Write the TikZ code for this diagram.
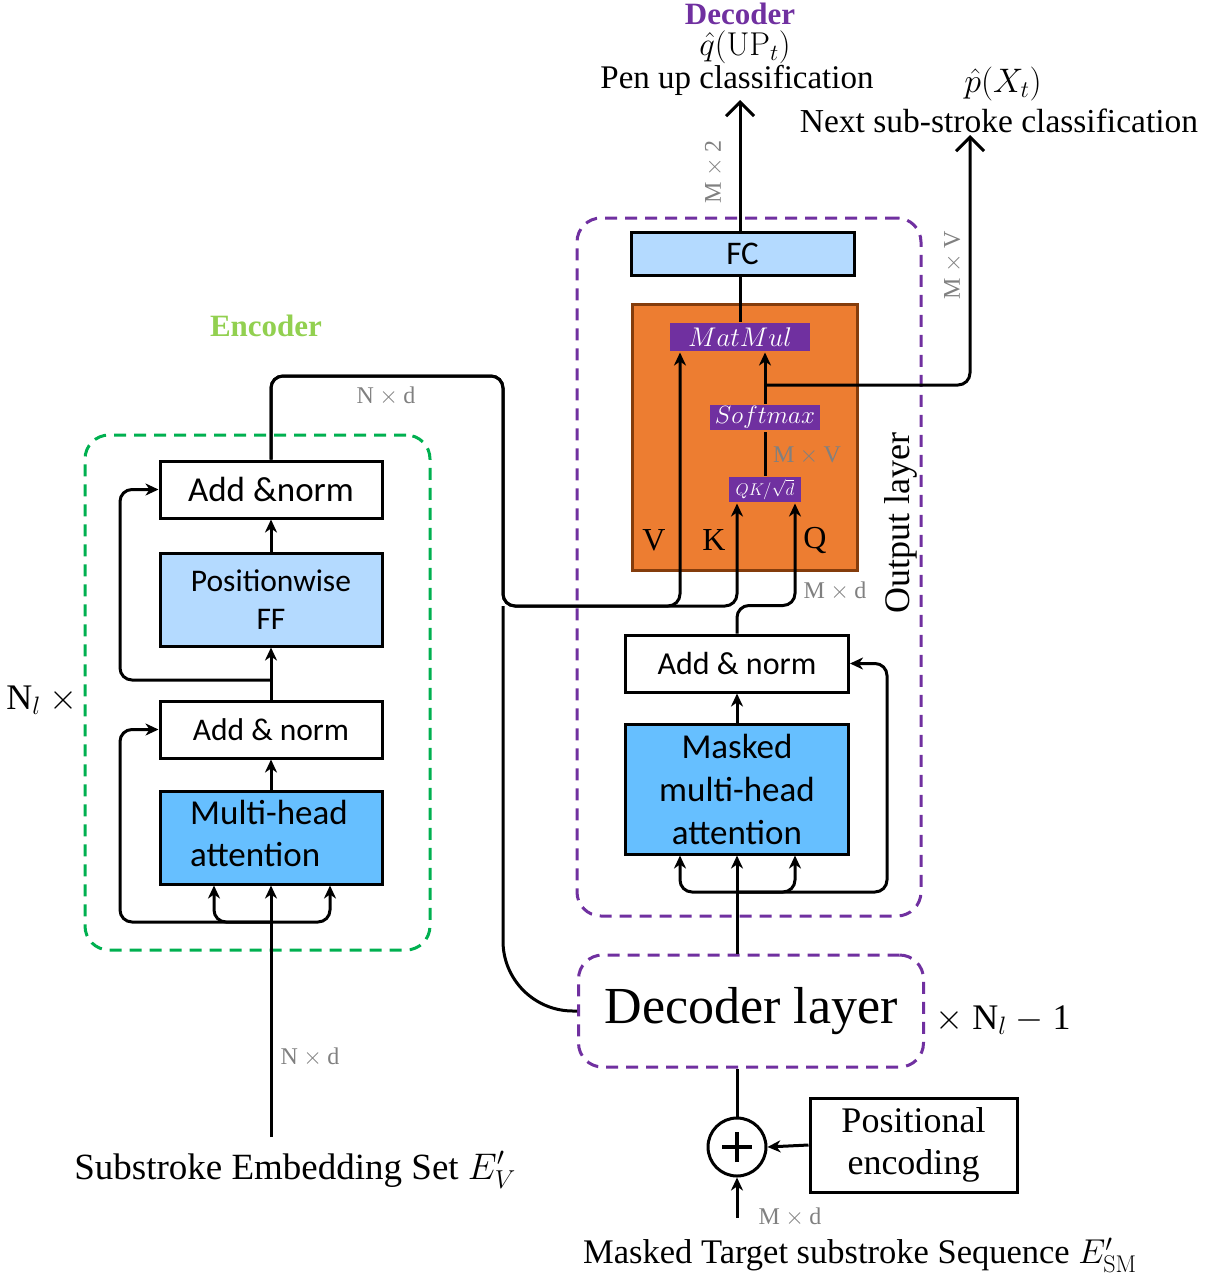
\RequirePackage{fix-cm}
\documentclass[tikz,border=0pt]{standalone}
\usepackage[no-math]{fontspec}
\setmainfont{Liberation Serif}
\newfontfamily\carl{Carlito}
\usetikzlibrary{arrows.meta,calc}
\newcommand\fsz[2]{\fontsize{#1}{#2}\selectfont}
\definecolor{encgreen}{HTML}{00B050}
\definecolor{enctitle}{HTML}{92D050}
\definecolor{decpurple}{HTML}{7030A0}
\definecolor{lightblue}{HTML}{B4DAFF}
\definecolor{midblue}{HTML}{66BFFF}
\definecolor{orangefill}{HTML}{ED7D31}
\definecolor{orangeline}{HTML}{843C0C}
\definecolor{dimgray}{HTML}{808080}
\begin{document}
\begin{tikzpicture}[x=1pt,y=-1pt,line width=3pt,
  box/.style={draw,line width=3pt,inner sep=0pt,align=center},
  conn/.style={line width=3pt,rounded corners=12pt},
  arr/.style={conn,-{Stealth[length=13pt,width=12pt,inset=4pt]}},
  bigarr/.style={conn,-{Straight Barb[length=14pt,width=28pt]}},
  txt/.style={inner sep=0pt},
  graylbl/.style={text=dimgray,font=\fsz{24}{28},inner sep=0pt},
  greendash/.style={draw=encgreen,line width=3pt,dash pattern=on 12pt off 8pt,rounded corners=24pt,inner sep=0pt},
  purpledash/.style={draw=decpurple,line width=3pt,dash pattern=on 12pt off 8pt,rounded corners=24pt,inner sep=0pt},
  tag/.style={fill=decpurple,text=white,inner sep=0pt}
]
\useasboundingbox (0,0) rectangle (1210,1278);

% ---------- Encoder ----------
\node[greendash,minimum width=345pt,minimum height=515pt] (encBox) at (257.5,692.5) {};
\node[txt,font=\bfseries\fsz{31}{36},text=enctitle] (encTitle) at (266,326) {Encoder};
\node[box,fill=white,minimum width=222pt,minimum height=57pt,font=\carl\fsz{35}{42}] (encAN2) at (271,489.5) {Add \&norm};
\node[box,fill=lightblue,minimum width=222pt,minimum height=93pt,font=\carl\fsz{31.5}{38}] (PFF) at (271,599.5) {Positionwise\\FF};
\node[box,fill=white,minimum width=222pt,minimum height=57pt,font=\carl\fsz{31.5}{38}] (encAN1) at (271,729.5) {Add \& norm};
\node[box,fill=midblue,minimum width=222pt,minimum height=93pt,font=\carl\fsz{35}{42}] (MHA) at (271,837.5) {\begin{tabular}{@{}l@{}}\hspace*{-4pt}Multi-head\\\hspace*{-4pt}attention\end{tabular}};
\node[txt,font=\fsz{36}{40}] (Nlx) at (42,700) {N$_l$ $\times$};

\coordinate (encIn) at (271,1137);
\coordinate (encSplit) at (271,922);
\coordinate (encSplit2) at (271,680);
\coordinate (encLoopX) at (120,0);
\draw[arr] (encIn) -- (MHA.south);
\draw[arr] (encSplit) -| ([xshift=-57pt]MHA.south);
\draw[arr] (encSplit) -| ([xshift=59pt]MHA.south);
\draw[arr] (encSplit) -| (encLoopX |- encAN1.west) -- (encAN1.west);
\draw[arr] (MHA.north) -- (encAN1.south);
\draw[arr] (encAN1.north) -- (PFF.south);
\draw[arr] (encSplit2) -| (encLoopX |- encAN2.west) -- (encAN2.west);
\draw[arr] (PFF.north) -- (encAN2.south);

\node[graylbl] (lNd2) at (310,1057) {N${}\times{}$d};
\node[txt,font=\fsz{37}{40}] (encInLbl) at (295,1170) {Substroke Embedding Set $E'_V$};

% ---------- Decoder output layer ----------
\node[purpledash,minimum width=344pt,minimum height=698pt] (outBox) at (749,567) {};
\node[txt,font=\fsz{36}{40},rotate=90] (outLbl) at (901,523) {Output layer};
\node[box,fill=lightblue,minimum width=223pt,minimum height=43pt,font=\carl\fsz{33}{38}] (FC) at (742.5,253.5) {FC};
\node[draw=orangeline,fill=orangefill,line width=3pt,minimum width=225pt,minimum height=266pt,inner sep=0pt] (orange) at (744.5,437) {};
\node[tag,minimum width=140pt,minimum height=28pt,font=\fsz{27}{30}] (MatMul) at (740,337) {$MatMul$};
\node[tag,minimum width=110pt,minimum height=25pt,font=\fsz{25}{28}] (Softmax) at (765,417.5) {$Softmax$};
\node[tag,minimum width=72pt,minimum height=25pt,font=\fsz{17}{20}] (QK) at (765,489.5) {$QK/\sqrt{d}$};
\node[txt,font=\fsz{32}{36}] (lV) at (654,540) {V};
\node[txt,font=\fsz{32}{36}] (lK) at (714,540) {K};
\node[txt,font=\fsz{32}{36}] (lQ) at (815,540) {Q};
\node[graylbl] (lMV1) at (807,456) {M${}\times{}$V};

\node[box,fill=white,minimum width=223pt,minimum height=57pt,font=\carl\fsz{32}{38}] (decAN) at (737,663.5) {Add \& norm};
\node[box,fill=midblue,minimum width=223pt,minimum height=130pt,font=\carl\fsz{35}{43}] (MMHA) at (737,789) {Masked\\multi-head\\attention};
\node[graylbl] (lMd1) at (835,591) {M${}\times{}$d};

% titles / outputs
\node[txt,font=\bfseries\fsz{31}{36},text=decpurple] (decTitle) at (740,14) {Decoder};
\node[txt,font=\fsz{33}{36}] (qhat) at (745,47) {$\hat{q}(\mathrm{UP}_t)$};
\node[txt,font=\fsz{33}{38}] (penLbl) at (737,80) {Pen up classification};
\node[txt,font=\fsz{34}{36}] (phat) at (1003,84) {$\hat{p}(X_t)$};
\node[txt,font=\fsz{33.5}{38}] (nextLbl) at (999,121) {Next sub-stroke classification};
\node[graylbl,rotate=90] (lM2) at (714,172) {M${}\times{}$2};
\node[graylbl,rotate=90] (lMV2) at (953,265) {M${}\times{}$V};
\node[graylbl] (lNd1) at (386,396) {N${}\times{}$d};

% ---------- Decoder layer stack ----------
\node[purpledash,minimum width=345pt,minimum height=112pt,font=\fsz{52}{56}] (decL) at (751,1011) {Decoder layer};
\node[txt,font=\fsz{36}{40}] (times) at (1003,1020) {$\times$ N$_l$ $-$ 1};
\node[circle,draw,line width=3pt,minimum size=58pt,inner sep=0pt,fill=white] (circ) at (737,1147) {};
\draw[line width=4.5pt] ([xshift=-15pt]circ.center) -- ([xshift=15pt]circ.center);
\draw[line width=4.5pt] ([yshift=-15pt]circ.center) -- ([yshift=15pt]circ.center);
\node[box,fill=white,minimum width=207pt,minimum height=94pt,font=\fsz{36}{42}] (PE) at (913.5,1145) {Positional\\encoding};
\node[graylbl] (lMd2) at (790,1217) {M${}\times{}$d};
\node[txt,font=\fsz{34.5}{38}] (seqLbl) at (860,1255) {Masked Target substroke Sequence $E'_{\mathrm{SM}}$};

% ---------- connectors ----------
\coordinate (e2) at (503,376);
\coordinate (e3) at (503,606);
\coordinate (vX) at (680,0);
\coordinate (kX) at (737,0);
\coordinate (qX) at (795,0);
\draw[arr] (encAN2.north) |- (e2) -- (e3) -| (MatMul.south -| vX);
\draw[arr] (encAN2.north) |- (e2) -- (e3) -| (QK.south -| kX);
\draw[conn,rounded corners=70pt] (e3) |- (decL.west);
\draw[arr] (decAN.north) -- ++(0,-28) -| (QK.south -| qX);
\draw[conn] (QK.north) -- (Softmax.south);
\draw[arr] (Softmax.north) -- (MatMul.south -| Softmax.north);
\coordinate (smSplit) at (765,385);
\coordinate (nextOut) at (970,135);
\draw[bigarr] (smSplit) -| (nextOut);
\draw[conn] (MatMul.north) -- (FC.south -| MatMul.north);
\coordinate (penOut) at (740,100);
\draw[bigarr] (FC.north -| penOut) -- (penOut);

\draw[arr] (decL.north -| MMHA.south) -- (MMHA.south);
\coordinate (dSplit) at (737,892);
\coordinate (dLoopX) at (887,0);
\draw[arr] (dSplit) -| ([xshift=-57pt]MMHA.south);
\draw[arr] (dSplit) -| ([xshift=58pt]MMHA.south);
\draw[arr] (dSplit) -| (dLoopX |- decAN.east) -- (decAN.east);
\draw[arr] (MMHA.north) -- (decAN.south);
\draw[conn] (circ.north) -- (decL.south -| circ.north);
\draw[arr] (PE.west) -- (circ.east);
\coordinate (seqIn) at (737,1218);
\draw[arr] (seqIn) -- (circ.south);
\end{tikzpicture}
\end{document}
